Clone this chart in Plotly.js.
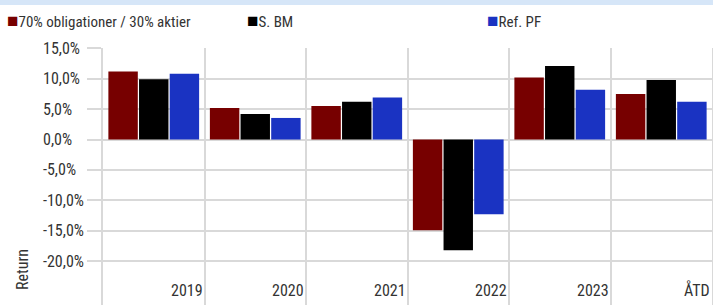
<!DOCTYPE html>
<html>
<head>
<meta charset="utf-8">
<script src="https://cdn.plot.ly/plotly-3.0.1.min.js"></script>
<style>
html,body{margin:0;padding:0;background:#fff;}
#chart{width:713px;height:305px;}
</style>
</head>
<body>
<div id="chart"></div>
<script>
const categories = ["2019", "2020", "2021", "2022", "2023", "ÅTD"];
const seriesNames = ["70% obligationer / 30% aktier", "S. BM", "Ref. PF"];
const seriesColors = ["#770000", "#000000", "#1a33c2"];
const portfolio = [11.2, 5.2, 5.5, -14.9, 10.2, 7.5];
const benchmark = [9.9, 4.2, 6.2, -18.2, 12.1, 9.8];
const refPF = [10.8, 3.55, 6.9, -12.3, 8.2, 6.2];
const yTicks = [-20, -15, -10, -5, 0, 5, 10, 15];
const yTickLabels = ["-20,0%", "-15,0%", "-10,0%", "-5,0%", "0,0%", "5,0%", "10,0%", "15,0%"];
const yTitle = "Return";

const FONT = "'Roboto Condensed', Roboto, sans-serif";
const TXT = "#333333";
const GRID = "#d9d9d9";

const values = [portfolio, benchmark, refPF];
const traces = values.map((v, i) => ({
  type: "bar",
  x: categories,
  y: v,
  name: seriesNames[i],
  marker: {color: seriesColors[i]},
  hoverinfo: "x+y+name"
}));

// figure pixel helpers
const W = 713, H = 305, ML = 103, MR = 1, MT = 48, MB = 0;
const PW = W - ML - MR, PH = H - MT - MB;
const px = p => (p - ML) / PW;
const py = p => (H - MB - p) / PH;

const annotations = [];
categories.forEach((c, i) => {
  annotations.push({
    xref: "x", yref: "paper", x: i + 0.5, y: py(290),
    xanchor: "right", yanchor: "middle", showarrow: false,
    text: c, font: {family: FONT, size: 16, color: TXT}
  });
});
yTicks.forEach((v, i) => {
  annotations.push({
    xref: "paper", yref: "y", x: px(41), y: v,
    xanchor: "left", yanchor: "middle", showarrow: false,
    text: yTickLabels[i], font: {family: FONT, size: 16, color: TXT}
  });
});
const legendX = [5, 245, 485];
seriesNames.forEach((n, i) => {
  annotations.push({
    xref: "paper", yref: "paper", x: px(legendX[i]), y: py(21),
    xanchor: "left", yanchor: "middle", showarrow: false,
    text: '<span style="color:' + seriesColors[i] + ';font-size:19px">■</span>' + n,
    font: {family: FONT, size: 15, color: TXT}
  });
});
annotations.push({
  xref: "paper", yref: "paper", x: px(22), y: py(270),
  xanchor: "center", yanchor: "middle", showarrow: false, textangle: -90,
  text: yTitle, font: {family: FONT, size: 16, color: TXT}
});

const layout = {
  width: W, height: H,
  margin: {l: ML, r: MR, t: MT, b: MB, pad: 0},
  paper_bgcolor: "#ffffff", plot_bgcolor: "#ffffff",
  showlegend: false,
  barmode: "group",
  bargap: 0.094,
  bargroupgap: 0.04,
  font: {family: FONT, size: 16, color: TXT},
  xaxis: {
    type: "category",
    tickson: "boundaries",
    showgrid: true, gridcolor: GRID, gridwidth: 2,
    showticklabels: false, ticks: "",
    zeroline: false, showline: false,
    range: [-0.5, categories.length - 0.5]
  },
  yaxis: {
    range: [-27.2, 15.05],
    tickvals: yTicks,
    showticklabels: false,
    showgrid: true, gridcolor: GRID, gridwidth: 2,
    zeroline: true, zerolinecolor: GRID, zerolinewidth: 2,
    ticks: "outside", ticklen: 14, tickwidth: 2, tickcolor: GRID,
    showline: true, linecolor: GRID, linewidth: 2, mirror: true
  },
  shapes: [{
    type: "rect", xref: "paper", yref: "paper",
    x0: px(0), x1: px(W), y0: py(5), y1: py(0),
    fillcolor: "#d6e6f8", line: {width: 0}, layer: "above"
  }],
  annotations: annotations
};

Plotly.newPlot("chart", traces, layout, {displayModeBar: false, staticPlot: true});
</script>
</body>
</html>
